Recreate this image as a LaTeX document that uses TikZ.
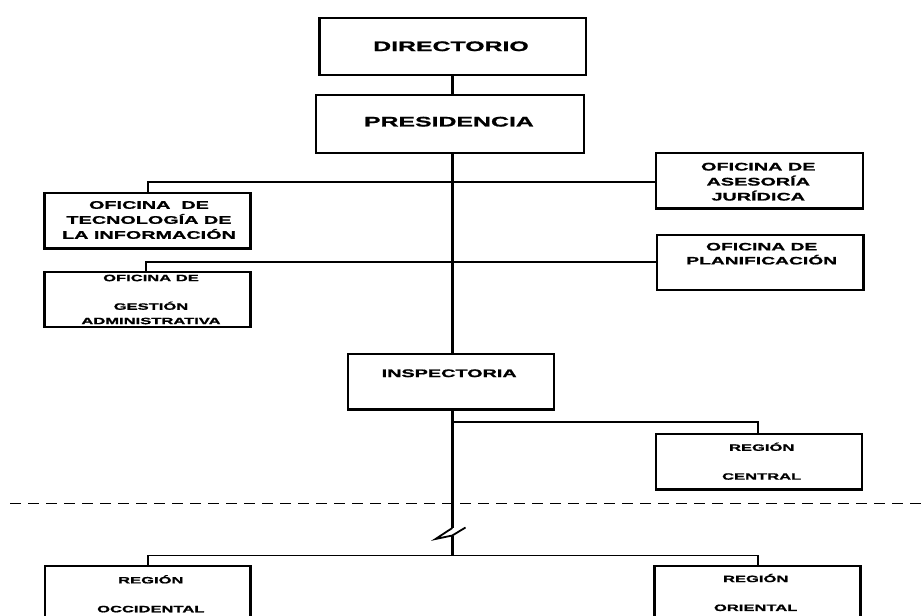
\documentclass[tikz,border=0pt]{standalone}
\usepackage{fontspec}
\setmainfont{Liberation Sans}
\newfontfamily\wf[FakeStretch=1.8, BoldFeatures={FakeBold=1.3}]{Liberation Sans}
\begin{document}
\begin{tikzpicture}[x=1pt,y=-1pt,
  box/.style={draw, line width=2.3pt, inner sep=0pt, anchor=north west},
  txt/.style={inner sep=0pt, align=center, text=black},
  big/.style={font=\wf\bfseries\fontsize{13.8}{16}\selectfont},
  mid/.style={font=\wf\bfseries\fontsize{11}{15}\selectfont},
  sml/.style={font=\wf\bfseries\fontsize{9.2}{14.4}\selectfont},
  spine/.style={line width=2.5pt},
  branch/.style={line width=1.8pt},
  sep/.style={line width=1.8pt, dash pattern=on 11pt off 7pt}]
\useasboundingbox (0,0) rectangle (922,616);
\clip (0,0) rectangle (922,616);

% boxes
\node[box, minimum width=266.7pt, minimum height=57.3pt] (dir)  at (318.3,16.7) {};
\node[box, minimum width=267.7pt, minimum height=57.7pt] (pres) at (315,94) {};
\node[box, minimum width=206pt, minimum height=55.6pt] (ti)   at (43.3,191.7) {};
\node[box, minimum width=206pt, minimum height=55.3pt] (ga)   at (43.3,270.7) {};
\node[box, minimum width=206.7pt, minimum height=55.6pt] (aj) at (655,151.7) {};
\node[box, minimum width=206.3pt, minimum height=55pt] (plan) at (656,234) {};
\node[box, minimum width=206.2pt, minimum height=55.6pt] (insp) at (346.5,352.7) {};
\node[box, minimum width=205.7pt, minimum height=55.6pt] (cen) at (655,432.7) {};
\node[box, minimum width=205.3pt, minimum height=70pt] (occ) at (44,565) {};
\node[box, minimum width=206pt, minimum height=70pt] (ori) at (653.3,565) {};

% texts
\node[txt, big] (dirT)  at (451,46.3) {DIRECTORIO};
\node[txt, big] (presT) at (448.9,121.7) {PRESIDENCIA};
\node[txt, mid] (tiT)   at (149,220) {OFICINA\ \ DE\\TECNOLOGÍA DE\\LA INFORMACIÓN};
\node[txt, sml] (gaT)   at (151,299.5) {OFICINA DE\\[14.2pt]GESTIÓN\\ADMINISTRATIVA};
\node[txt, mid] (ajT)   at (758.3,181.7) {OFICINA DE\\ASESORÍA\\JURÍDICA};
\node[txt, mid, font=\wf\bfseries\fontsize{10.7}{14}\selectfont] (planT) at (761.7,253.7) {OFICINA DE\\PLANIFICACIÓN};
\node[txt, mid] (inspT) at (449.2,373.3) {INSPECTORIA};
\node[txt, sml] (cenT)  at (761.7,461.2) {REGIÓN\\[14.5pt]CENTRAL};
\node[txt, sml] (occT)  at (150.8,593.8) {REGIÓN\\[14.5pt]OCCIDENTAL};
\node[txt, sml] (oriT)  at (755.7,592.5) {REGIÓN\\[14.5pt]ORIENTAL};

% junction coordinates
\coordinate (sp) at (452.3,0);
\coordinate (j1) at (147.7,182);
\coordinate (j2) at (145.7,261.7);
\coordinate (j3) at (758.3,421.7);
\coordinate (brkA) at (452.3,528);
\coordinate (brkB) at (452.3,535.5);
\coordinate (brkL) at (435.5,539);
\coordinate (brkR) at (465.5,527.5);
\coordinate (jl) at (147.7,555.5);
\coordinate (jr) at (758.3,555.5);
\coordinate (dl) at (10,503.5);
\coordinate (dr) at (922,503.5);

% separator
\draw[sep] (dl) -- (dr);

% spine
\draw[spine] (dir.south -| sp) -- (pres.north -| sp);
\draw[spine] (pres.south -| sp) -- (insp.north -| sp);
\draw[spine] (insp.south -| sp) -- (brkA);
\draw[line width=1.8pt, line join=miter] (brkA) -- (brkL) -- (brkB) -- (brkR);
\draw[spine] (brkB) -- (jl -| sp);

% branches
\draw[branch] (aj.west |- j1) -- (j1) -- (j1 |- ti.north);
\draw[branch] (plan.west |- j2) -- (j2) -- (j2 |- ga.north);
\draw[branch] (j3 -| sp) -- (j3) -- (j3 |- cen.north);
\draw[branch] (jl |- occ.north) -- (jl) -- (jr) -- (jr |- ori.north);
\end{tikzpicture}
\end{document}
